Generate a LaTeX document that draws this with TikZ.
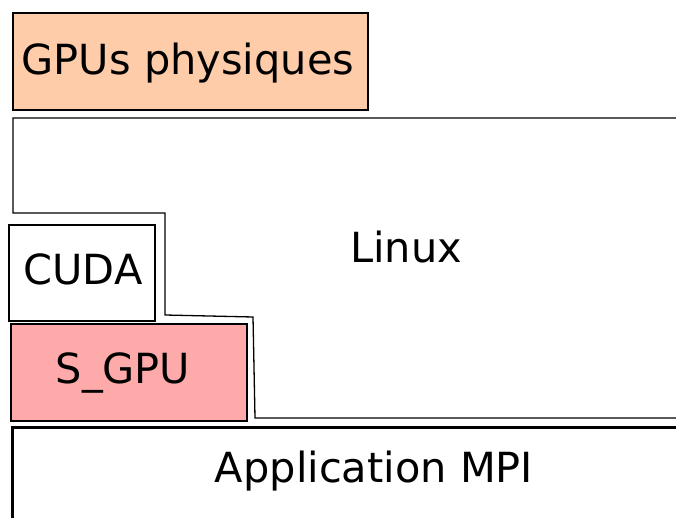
\documentclass[tikz,border=0pt]{standalone}
\usepackage{fontspec}
\setmainfont{DejaVu Sans}
\usepackage{tikz}
\definecolor{gpuorange}{HTML}{FFCCAA}
\definecolor{sgpupink}{HTML}{FFAAAA}
\tikzset{
    layer/.style={draw=black, line width=1.3pt, inner sep=0pt},
    layertext/.style={inner sep=0pt, anchor=base, font=\fontsize{41.5}{50}\selectfont}
}
\begin{document}
\begin{tikzpicture}[x=1pt, y=-1pt]
    \clip (0, 0) rectangle (676, 518);
    
    % Physical GPUs
    \node[layer, fill=gpuorange, minimum width=355pt, minimum height=97pt] (gpus) at (190.5, 61.5) {};
    \node[layertext] (gpuslabel) at (188, 75) {GPUs physiques};
    
    % Linux block with its steps
    \draw[line width=1.3pt] (690, 118) -- (13, 118) -- (13, 213) -- (165, 213) -- (165, 315)
        -- (253, 317) -- (255, 418) -- (690, 418);
    \node[layertext] (linux) at (406, 262) {Linux};
    
    % Libraries
    \node[layer, fill=white, minimum width=146pt, minimum height=96pt] (cuda) at (82, 273) {};
    \node[layertext] (cudalabel) at (83, 284) {CUDA};
    \node[layer, fill=sgpupink, minimum width=236pt, minimum height=97pt] (sgpu) at (129, 372.5) {};
    \node[layertext] (sgpulabel) at (123, 383) {S\_GPU};
    
    % MPI application
    \node[layer, line width=2.5pt, minimum width=700pt, minimum height=120pt, anchor=north west] (app) at (11, 426) {};
    \node[layertext] (applabel) at (374, 482) {Application MPI};
\end{tikzpicture}
\end{document}
